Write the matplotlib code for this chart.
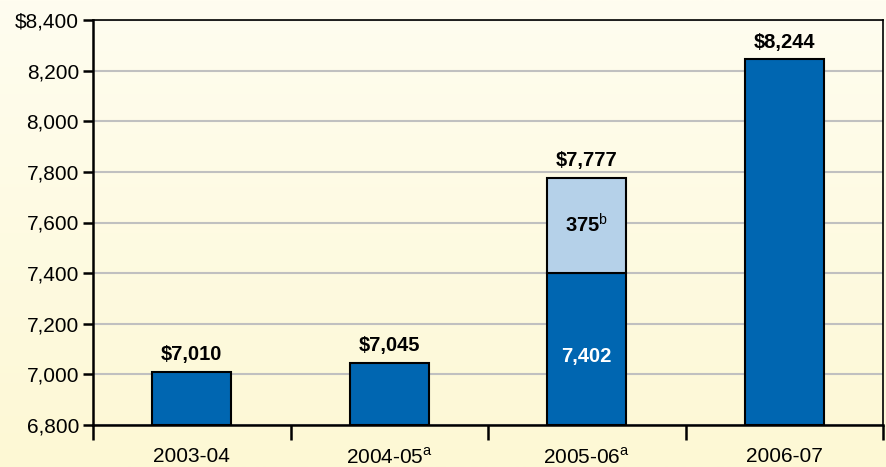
import numpy as np
import matplotlib.pyplot as plt
from matplotlib.ticker import FixedLocator, FuncFormatter
from matplotlib.colors import LinearSegmentedColormap

plt.rcParams['font.family'] = ['Liberation Sans', 'DejaVu Sans']
plt.rcParams['mathtext.fontset'] = 'custom'
plt.rcParams['mathtext.rm'] = 'Liberation Sans'
plt.rcParams['mathtext.bf'] = 'Liberation Sans:bold'

# data
years = ['2003-04', '2004-05$^{\\mathrm{a}}$', '2005-06$^{\\mathrm{a}}$', '2006-07']
base = [7010, 7045, 7402, 8244]
extra = [0, 0, 375, 0]
totals = [7010, 7045, 7777, 8244]
total_labels = ['$7,010', '$7,045', '$7,777', '$8,244']

dark = '#0066b1'
light = '#b5d1e9'

fig = plt.figure(figsize=(8.87, 4.67), dpi=100)

# background gradient
bg = fig.add_axes([0, 0, 1, 1], zorder=-10)
grad = np.linspace(0, 1, 256).reshape(-1, 1)
cmap = LinearSegmentedColormap.from_list('bg', ['#fffdf0', '#fdf8d4'])
bg.imshow(grad, aspect='auto', cmap=cmap, extent=[0, 1, 0, 1])
bg.axis('off')

ax = fig.add_axes([93 / 887, 1 - 425 / 467, 790 / 887, 405 / 467])
ax.patch.set_alpha(0)

x = np.arange(len(years))
ax.bar(x, np.array(base) - 6800, bottom=6800, width=0.4, color=dark,
       edgecolor='black', linewidth=1.5, zorder=3)
ax.bar(x[2], extra[2], bottom=base[2], width=0.4, color=light,
       edgecolor='black', linewidth=1.5, zorder=3)

for i in range(len(years)):
    ax.text(x[i], totals[i] + 30, total_labels[i], ha='center', va='bottom',
            fontsize=14.5, fontweight='bold', zorder=4)

ax.text(x[2], base[2] + extra[2] / 2, '375$^{\\mathrm{b}}$', ha='center', va='center',
        fontsize=14.5, fontweight='bold', zorder=4)
ax.text(x[2], 7070, '7,402', ha='center', va='center', color='white',
        fontsize=14.5, fontweight='bold', zorder=4)

ax.set_ylim(6800, 8400)
ax.set_xlim(-0.5, 3.5)
ax.set_yticks(np.arange(6800, 8401, 200))
ax.yaxis.set_major_formatter(FuncFormatter(lambda v, p: ('$' if v == 8400 else '') + f'{int(v):,}'))
ax.yaxis.grid(True, color='#c0c0c0', linewidth=1.5, zorder=0)
ax.set_axisbelow(True)

ax.xaxis.set_major_locator(FixedLocator([-0.5, 0.5, 1.5, 2.5, 3.5]))
ax.xaxis.set_major_formatter(FuncFormatter(lambda v, p: ''))
ax.xaxis.set_minor_locator(FixedLocator(x))
ax.set_xticklabels(years, minor=True)
ax.tick_params(axis='x', which='major', length=11, width=1.8, direction='out')
ax.tick_params(axis='x', which='minor', length=0, pad=16, labelsize=15)
ax.tick_params(axis='y', length=7, width=1.8, labelsize=15, pad=3)

for side in ['left', 'bottom']:
    ax.spines[side].set_linewidth(1.8)
for side in ['top', 'right']:
    ax.spines[side].set_linewidth(1.2)

fig.savefig('out.png', dpi=100)
